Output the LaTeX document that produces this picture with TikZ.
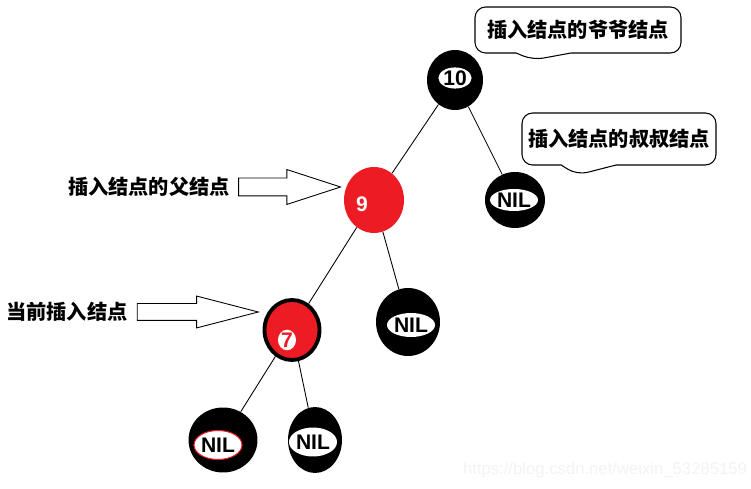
\documentclass[tikz,border=0pt]{standalone}
\usepackage{fontspec}
\setmainfont{Liberation Sans}
\newfontfamily\cjk{Noto Sans CJK SC}
\usepackage{tikz}
\usetikzlibrary{shapes.geometric, shapes.arrows, shapes.callouts, positioning}
\definecolor{pred}{HTML}{ED1C24}
\definecolor{wgray}{HTML}{F3F3F3}
\tikzset{
  blk/.style={ellipse, fill=black, inner sep=0pt},
  hole/.style={ellipse, fill=white, inner sep=0pt, font=\bfseries\fontsize{12}{12}\selectfont},
  rednode/.style={ellipse, fill=pred, inner sep=0pt},
  note/.style={rectangle callout, rounded corners=6pt, draw=black, fill=white, line width=0.6pt,
               callout pointer width=1.1cm, align=center, font=\cjk\bfseries\fontsize{11.5}{13}\selectfont},
  tag/.style={font=\cjk\bfseries\fontsize{11.5}{13}\selectfont, inner sep=0pt},
  pointer/.style={single arrow, draw=black, fill=white, line width=0.5pt, inner xsep=0pt,
                  single arrow head indent=0pt},
  edge/.style={draw=black, line width=0.5pt}
}

\begin{document}
\begin{tikzpicture}[x=0.02cm, y=-0.02cm]
  \useasboundingbox (0,0) rectangle (751,489);

  % tree nodes
  \node[blk, minimum width=1.12cm, minimum height=1.2cm] (n10) at (455,80) {};
  \node[hole, minimum width=0.6cm, minimum height=0.4cm] (t10) at (455,78) {10};
  \node[rednode, minimum width=1.2cm, minimum height=1.32cm] (n9) at (374,200) {};
  \node[text=white, font=\bfseries\fontsize{12}{12}\selectfont, inner sep=0pt] (t9) at (362,204) {9};
  \node[rednode, draw=black, line width=2.2pt, minimum width=1.1cm, minimum height=1.2cm] (n7) at (292,330) {};
  \node[hole, text=pred, minimum width=0.36cm, minimum height=0.38cm] (t7) at (287,340) {7};
  \node[blk, minimum width=1.2cm, minimum height=1.12cm] (nilU) at (515,200) {};
  \node[hole, minimum width=0.72cm, minimum height=0.44cm] (tU) at (514,200) {NIL};
  \node[blk, minimum width=1.28cm, minimum height=1.36cm] (nilM) at (408,322) {};
  \node[hole, minimum width=0.8cm, minimum height=0.48cm] (tM) at (411,325) {NIL};
  \node[blk, minimum width=1.38cm, minimum height=1.3cm] (nilL) at (223,440) {};
  \node[hole, draw=pred, line width=0.6pt, minimum width=0.84cm, minimum height=0.58cm] (tL) at (218,445) {NIL};
  \node[blk, minimum width=1.08cm, minimum height=1.32cm] (nilR) at (315,440) {};
  \node[hole, minimum width=0.78cm, minimum height=0.58cm] (tR) at (313,442) {NIL};

  % links
  \draw[edge] (n10) -- (n9);
  \draw[edge] (n10) -- (nilU);
  \draw[edge] (n9) -- (n7);
  \draw[edge] (n9) -- (nilM);
  \draw[edge] (n7) -- (nilL);
  \draw[edge] (n7) -- (nilR);

  % notes
  \node[note, minimum width=4.12cm, minimum height=0.92cm, callout absolute pointer={(533,60)}] (gpnote) at (578,30) {插入结点的爷爷结点};
  \node[note, minimum width=3.88cm, minimum height=1.04cm, callout absolute pointer={(577,175)}] (unote) at (619,139) {插入结点的叔叔结点};

  \node[pointer, minimum height=2.04cm, inner ysep=0.17cm, single arrow head extend=0.17cm,
        single arrow tip angle=36, anchor=tip] (arrP) at (342,187) {};
  \node[tag, left=0.16cm of arrP.tail] (lblP) {插入结点的父结点};
  \node[pointer, minimum height=2.42cm, inner ysep=0.16cm, single arrow head extend=0.15cm,
        single arrow tip angle=29, anchor=tip] (arrC) at (260,312) {};
  \node[tag, left=0.18cm of arrC.tail] (lblC) {当前插入结点};

  \node[text=wgray, font=\fontsize{9.5}{10}\selectfont, inner sep=0pt] (wmark) at (605,470) {https://blog.csdn.net/weixin\_53285159};
\end{tikzpicture}
\end{document}
